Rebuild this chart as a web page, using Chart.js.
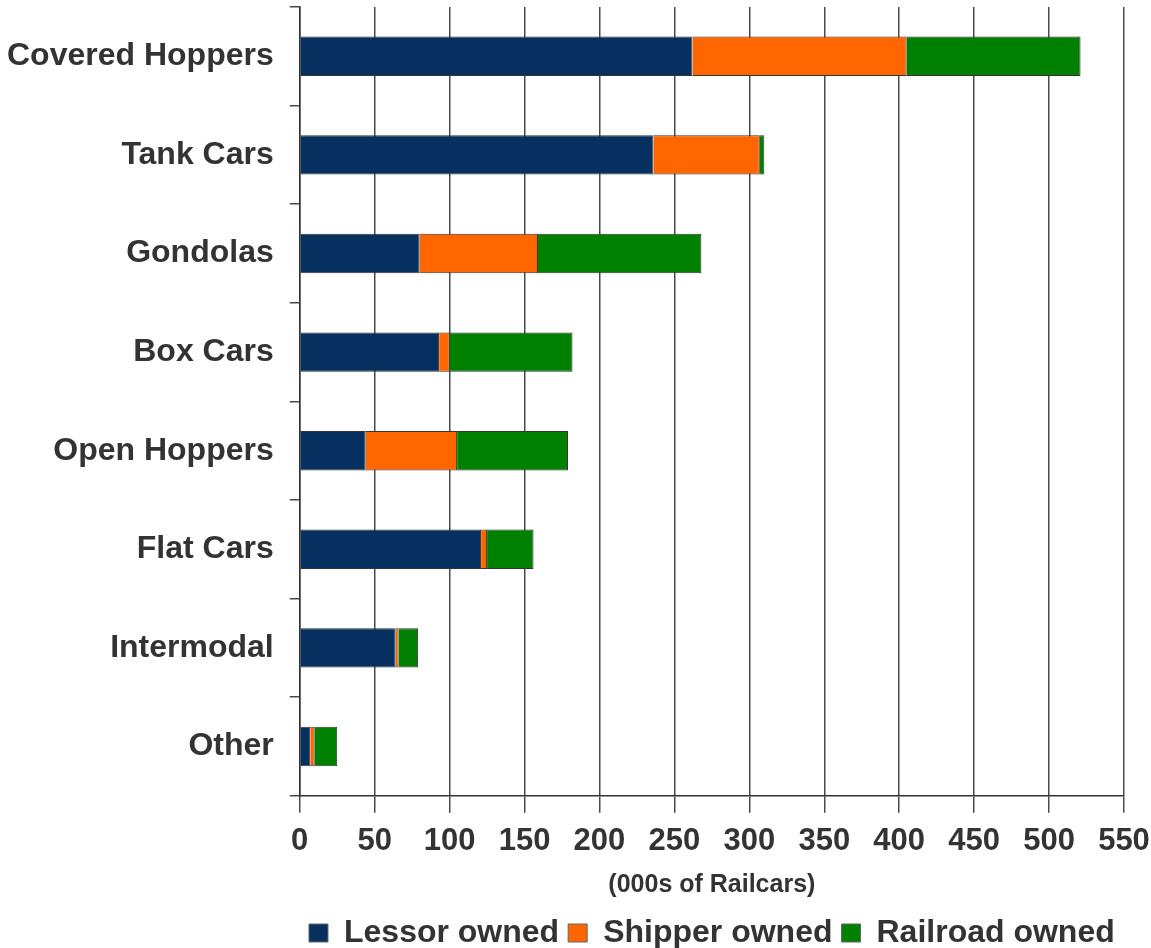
<!DOCTYPE html>
<html>
<head>
<meta charset="utf-8">
<script src="https://cdn.jsdelivr.net/npm/chart.js@4"></script>
<style>
  html, body { margin: 0; padding: 0; background: #ffffff; }
  #wrap { width: 1151px; height: 948px; position: relative; }
</style>
</head>
<body>
<div id="wrap"><canvas id="c"></canvas></div>
<script>
const categories = ["Covered Hoppers", "Tank Cars", "Gondolas", "Box Cars", "Open Hoppers", "Flat Cars", "Intermodal", "Other"];
const lessorOwned   = [262, 236, 80, 93, 44, 121, 64, 7];
const shipperOwned  = [143, 71, 79, 7, 61, 4, 2, 3];
const railroadOwned = [116, 3, 109, 82, 74, 31, 13, 15];
const seriesNames = ["Lessor owned", "Shipper owned", "Railroad owned"];
const xTickMax = 550;
const xTickStep = 50;
const axisTitle = "(000s of Railcars)";

const FONT = "'Liberation Sans', Arial, Helvetica, sans-serif";
const TEXT = "#333333";

new Chart(document.getElementById("c"), {
  type: "bar",
  data: {
    labels: categories,
    datasets: [
      { label: seriesNames[0], data: lessorOwned,   backgroundColor: "#06305f", borderColor: "#333333", borderWidth: 1 },
      { label: seriesNames[1], data: shipperOwned,  backgroundColor: "#ff6600", borderColor: "#333333", borderWidth: 1 },
      { label: seriesNames[2], data: railroadOwned, backgroundColor: "#008000", borderColor: "#333333", borderWidth: 1 }
    ]
  },
  options: {
    indexAxis: "y",
    responsive: true,
    maintainAspectRatio: false,
    animation: false,
    barPercentage: 0.4,
    categoryPercentage: 1.0,
    layout: { padding: { left: -9, right: 0, top: 7, bottom: -11 } },
    plugins: {
      legend: {
        position: "bottom",
        fullSize: false,
        labels: {
          font: { family: FONT, size: 32, weight: "bold" },
          color: TEXT,
          boxWidth: 19,
          boxHeight: 18,
          padding: 9,
          generateLabels(chart) {
            const items = Chart.defaults.plugins.legend.labels.generateLabels(chart);
            items.forEach(i => { i.lineWidth = 1; i.strokeStyle = "#666"; });
            return items;
          }
        }
      },
      tooltip: { enabled: false }
    },
    scales: {
      x: {
        stacked: true,
        min: 0,
        max: xTickMax,
        afterFit(scale) { scale.paddingLeft = 0; scale.paddingRight = 27; },
        ticks: {
          stepSize: xTickStep,
          font: { family: FONT, size: 31, weight: "bold" },
          color: TEXT,
          padding: 10,
          maxRotation: 0
        },
        grid: {
          color: "#4a4a4a",
          lineWidth: 1.5,
          tickLength: 17
        },
        border: { color: "#333333", width: 1.5 },
        title: {
          display: true,
          text: axisTitle,
          font: { family: FONT, size: 25, weight: "bold" },
          color: TEXT,
          padding: { top: 0, bottom: 8 }
        }
      },
      y: {
        stacked: true,
        afterFit(scale) { scale.paddingTop = 0; scale.paddingBottom = 0; },
        ticks: {
          font: { family: FONT, size: 32, weight: "bold" },
          color: TEXT,
          padding: 16
        },
        grid: {
          offset: true,
          drawOnChartArea: false,
          color: "#4a4a4a",
          lineWidth: 1.5,
          tickLength: 10
        },
        border: { color: "#333333", width: 1.5 }
      }
    }
  }
});
</script>
</body>
</html>
